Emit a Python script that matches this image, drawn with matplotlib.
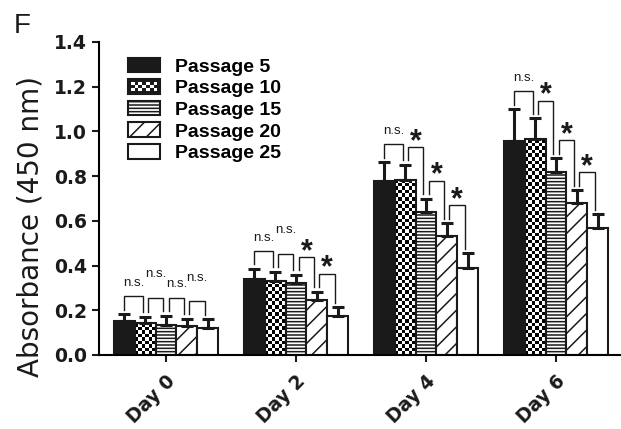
import numpy as np
import matplotlib
matplotlib.use('Agg')
import matplotlib.pyplot as plt
from matplotlib.patches import Patch, Rectangle
from matplotlib.legend_handler import HandlerBase

# data
days = ['Day 0', 'Day 2', 'Day 4', 'Day 6']
passages = ['Passage 5', 'Passage 10', 'Passage 15', 'Passage 20', 'Passage 25']

p5_mean = [0.150, 0.338, 0.780, 0.958]
p10_mean = [0.143, 0.331, 0.783, 0.965]
p15_mean = [0.133, 0.320, 0.638, 0.817]
p20_mean = [0.128, 0.246, 0.532, 0.681]
p25_mean = [0.121, 0.176, 0.388, 0.567]

p5_err = [0.033, 0.048, 0.082, 0.142]
p10_err = [0.028, 0.042, 0.067, 0.093]
p15_err = [0.043, 0.038, 0.060, 0.063]
p20_err = [0.034, 0.037, 0.057, 0.057]
p25_err = [0.040, 0.037, 0.067, 0.063]

# adjacent-passage comparisons per day
sig_day0 = ['n.s.', 'n.s.', 'n.s.', 'n.s.']
sig_day2 = ['n.s.', 'n.s.', '*', '*']
sig_day4 = ['n.s.', '*', '*', '*']
sig_day6 = ['n.s.', '*', '*', '*']

means = [p5_mean, p10_mean, p15_mean, p20_mean, p25_mean]
errs = [p5_err, p10_err, p15_err, p20_err, p25_err]
sigs = [sig_day0, sig_day2, sig_day4, sig_day6]
# which n.s. labels get lifted so they don't collide
lift = [[0, 1, 0, 1], [0, 1, 0, 0], [0, 0, 0, 0], [0, 0, 0, 0]]

plt.rcParams['hatch.linewidth'] = 1.1
plt.rcParams['axes.linewidth'] = 1.5

fig = plt.figure(figsize=(6.21, 4.29), dpi=100)
ax = fig.add_axes([0.1594, 0.1725, 0.8406, 0.7296])
XMIN, XMAX, YMIN, YMAX = -0.515, 3.5, 0.0, 1.4
ax.set_xlim(XMIN, XMAX)
ax.set_ylim(YMIN, YMAX)

ink = '#1a1a1a'
styles = [
    dict(facecolor=ink),
    dict(facecolor='none'),
    dict(facecolor='white', hatch='-----'),
    dict(facecolor='white', hatch='//'),
    dict(facecolor='white'),
]

x = np.arange(len(days))
w = 0.16
px_x = ax.transData.transform((1, 0))[0] - ax.transData.transform((0, 0))[0]
px_y = ax.transData.transform((0, 1))[1] - ax.transData.transform((0, 0))[1]

for k in range(5):
    pos = x + (k - 2) * w
    bars = ax.bar(pos, means[k], w, edgecolor=ink, linewidth=1.5, zorder=2, **styles[k])
    ax.errorbar(pos, means[k], yerr=[np.zeros(4), errs[k]], fmt='none',
                ecolor=ink, elinewidth=2.2, capsize=4, capthick=2.2, zorder=3)
    if k == 1:
        # checkerboard fill, clipped to each bar
        cell = 3.6
        for b in bars:
            bx, bw, bh = b.get_x(), b.get_width(), b.get_height()
            nc = max(1, int(round(bw * px_x / cell)))
            nr = max(1, int(round(bh * px_y / cell)))
            chk = np.indices((nr, nc)).sum(axis=0) % 2
            im = ax.imshow(chk, cmap='gray', extent=(bx, bx + bw, 0, bh), aspect='auto',
                           interpolation='nearest', origin='lower', zorder=1.5)
            im.set_clip_path(b)

# significance brackets
tops = [[m[d] + e[d] for m, e in zip(means, errs)] for d in range(4)]
for d in range(4):
    for i in range(4):
        xl = x[d] + (i - 2) * w + (0.02 if i > 0 else 0.0)
        xr = x[d] + (i - 1) * w - 0.02
        t1, t2 = tops[d][i], tops[d][i + 1]
        top = max(t1, t2) + 0.08
        ax.plot([xl, xl, xr, xr], [t1 + 0.02, top, top, t2 + 0.02], color=ink,
                lw=1.0, solid_joinstyle='miter', zorder=3)
        xc = (xl + xr) / 2
        if sigs[d][i] == '*':
            ax.text(xc, top - 0.012, '*', ha='center', va='baseline', fontsize=22,
                    fontweight='bold', family='Liberation Sans', color=ink)
        else:
            ax.text(xc, top + 0.046 + 0.045 * lift[d][i], 'n.s.', ha='center',
                    va='baseline', fontsize=9.5, family='Liberation Sans', color=ink)

ax.set_xlim(XMIN, XMAX)
ax.set_ylim(YMIN, YMAX)

ax.spines['top'].set_visible(False)
ax.spines['right'].set_visible(False)
ax.tick_params(axis='both', direction='out', length=5, width=1.5, color=ink)
ax.tick_params(axis='x', pad=7)
ax.set_yticks(np.arange(0, 1.41, 0.2))
ax.set_yticklabels([f'{v:.1f}' for v in np.arange(0, 1.41, 0.2)],
                   fontsize=13.5, fontweight='bold', color=ink)
ax.set_xticks(x)
ax.set_xticklabels(days, rotation=45, ha='right', rotation_mode='anchor',
                   fontsize=13.5, fontweight='bold', color=ink)
ax.set_ylabel('Absorbance (450 nm)', fontsize=20, color=ink)
ax.yaxis.set_label_coords(-0.104, 0.41)


class CheckerHandler(HandlerBase):
    def create_artists(self, legend, orig_handle, xdescent, ydescent,
                       width, height, fontsize, trans):
        x0, y0 = -xdescent, -ydescent
        arts = [Rectangle((x0, y0), width, height, facecolor=ink, edgecolor=ink,
                          lw=1.5, transform=trans)]
        nc, nr = 7, 3
        m = 2.0
        cw = (width - 2 * m) / nc
        ch = (height - 2 * m) / nr
        for r in range(nr):
            for c in range(nc):
                if (r + c) % 2 == 0:
                    arts.append(Rectangle((x0 + m + c * cw, y0 + m + r * ch), cw, ch,
                                          facecolor='white', edgecolor='none',
                                          transform=trans))
        return arts


handles = []
for k in range(5):
    st = dict(styles[k])
    if k == 1:
        st['facecolor'] = ink
    handles.append(Patch(edgecolor=ink, linewidth=1.5, label=passages[k], **st))

ax.legend(handles=handles, loc='upper left', bbox_to_anchor=(0.0556, 0.95),
          frameon=False, borderpad=0, borderaxespad=0, labelspacing=0.185,
          handlelength=1.65, handleheight=0.77, handletextpad=0.75,
          prop={'family': 'Liberation Sans', 'weight': 'bold', 'size': 14},
          handler_map={handles[1]: CheckerHandler()})

fig.text(0.022, 0.97, 'F', fontsize=20, va='top', ha='left', family='Liberation Sans',
         color=ink)

fig.savefig('out.png', dpi=100)
